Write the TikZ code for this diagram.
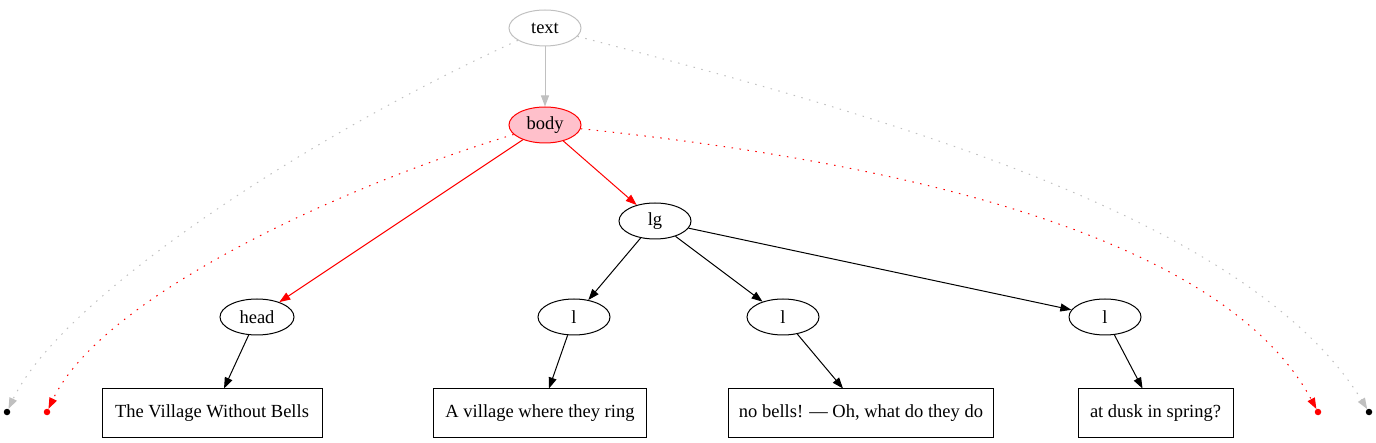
\documentclass[tikz,border=0pt]{standalone}
\usepackage{fontspec}
\setmainfont{Liberation Serif}
\usetikzlibrary{arrows.meta, shapes.geometric}

\definecolor{gvgray}{HTML}{C0C0C0}
\definecolor{gvpink}{HTML}{FFC0CB}

\tikzset{
    elnode/.style={draw, ellipse, minimum width=72pt, minimum height=36pt, inner sep=0pt, line width=1pt},
    txtbox/.style={draw, rectangle, minimum height=48pt, inner sep=0pt, line width=1pt},
    enddot/.style={circle, fill, inner sep=0pt, minimum size=6.5pt},
    gvedge/.style={line width=1pt, -{Triangle[length=11pt,width=8pt]}},
    gvdots/.style={gvedge, dash pattern=on 1.5pt off 6.5pt}
}

\begin{document}
\begin{tikzpicture}[x=1pt, y=-1pt, font=\fontsize{18.5}{21}\selectfont]
        \useasboundingbox (0,0) rectangle (1376,443);

        % Ellipse nodes
        \node[elnode, draw=gvgray] (text) at (545,28) {text};
        \node[elnode, draw=red, fill=gvpink] (body) at (545,125) {body};
        \node[elnode] (lg) at (655,221) {lg};
        \node[elnode, minimum width=74pt] (head) at (257,317) {head};
        \node[elnode] (l1) at (574,317) {l};
        \node[elnode] (l2) at (783,317) {l};
        \node[elnode] (l3) at (1105,317) {l};

        % Text boxes
        \node[txtbox, minimum width=220pt] (t1) at (212,413) {The Village Without Bells};
        \node[txtbox, minimum width=213pt] (t2) at (540,413) {A village where they ring};
        \node[txtbox, minimum width=265pt] (t3) at (861,413) {no bells! --- Oh, what do they do};
        \node[txtbox, minimum width=155pt] (t4) at (1155.5,413) {at dusk in spring?};

        % End dots
        \node[enddot] (lstart) at (7,412) {};
        \node[enddot, red] (lbody) at (47,412) {};
        \node[enddot, red] (rbody) at (1318,412) {};
        \node[enddot] (rstart) at (1369,412) {};

        % Tree edges
        \draw[gvedge, gvgray] (text) -- (body);
        \draw[gvedge, red] (body) -- (head);
        \draw[gvedge, red] (body) -- (lg);
        \draw[gvedge] (lg) -- (l1);
        \draw[gvedge] (lg) -- (l2);
        \draw[gvedge] (lg) -- (l3);
        \draw[gvedge] (head) -- ([xshift=12pt]t1.north);
        \draw[gvedge] (l1) -- ([xshift=9pt]t2.north);
        \draw[gvedge] (l2) -- ([xshift=-18pt]t3.north);
        \draw[gvedge] (l3) -- ([xshift=-13pt]t4.north);

        % Dotted curves
        \draw[gvdots, gvgray] (text) .. controls (300,140) and (60,300) .. (lstart);
        \draw[gvdots, red] (body) .. controls (330,190) and (100,300) .. (lbody);
        \draw[gvdots, gvgray] (text) .. controls (900,120) and (1250,220) .. (rstart);
        \draw[gvdots, red] (body) .. controls (880,160) and (1220,230) .. (rbody);
    \end{tikzpicture}
\end{document}
